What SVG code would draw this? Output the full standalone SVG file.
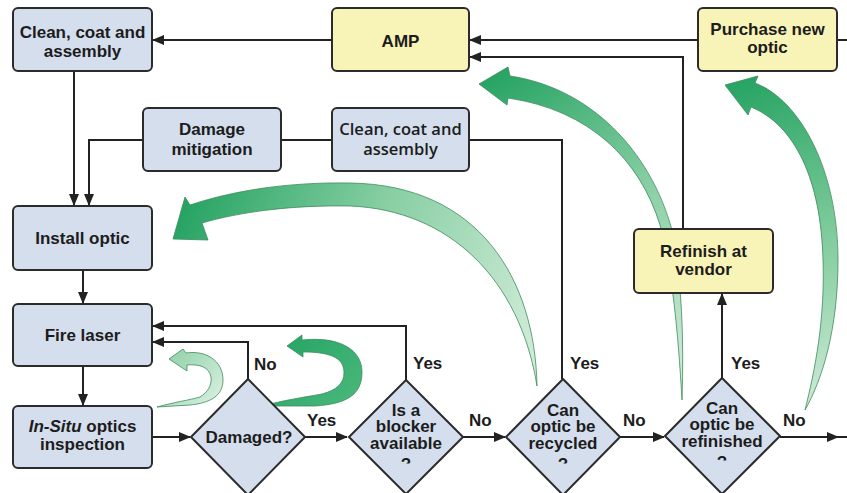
<svg xmlns="http://www.w3.org/2000/svg" width="847" height="493" viewBox="0 0 847 493">
  <defs>
    <style>
      .box { stroke: #2b2b2b; stroke-width: 2; }
      .blue { fill: #d4deec; }
      .yellow { fill: #f8f3b6; }
      .dia { fill: #d4deec; stroke: #2b2b2b; stroke-width: 2; stroke-linejoin: round; }
      .lbl { font-family: "Liberation Sans", Arial, sans-serif; font-weight: bold; font-size: 17px; fill: #1c1c1c; text-anchor: middle; }
      .lbl2 { font-family: "Open Sans", "Liberation Sans", sans-serif; font-weight: 600; font-size: 16.5px; fill: #1c1c1c; text-anchor: middle; }
      .yn { font-family: "Liberation Sans", Arial, sans-serif; font-weight: bold; font-size: 17px; fill: #1c1c1c; }
      .wire { fill: none; stroke: #222; stroke-width: 2; }
      .swoop { stroke: #3d8a5c; stroke-width: 0.8; stroke-linejoin: round; }
    </style>
    <marker id="ah" viewBox="0 0 12 10" refX="11" refY="5" markerWidth="12" markerHeight="10" orient="auto" markerUnits="userSpaceOnUse">
      <path d="M0,0 L12,5 L0,10 Z" fill="#222"/>
    </marker>
    <linearGradient id="g1" gradientUnits="userSpaceOnUse" x1="180" y1="220" x2="540" y2="380">
      <stop offset="0" stop-color="#27a463"/>
      <stop offset="0.45" stop-color="#86cea2"/>
      <stop offset="1" stop-color="#d6eedd"/>
    </linearGradient>
    <linearGradient id="g2" gradientUnits="userSpaceOnUse" x1="480" y1="84" x2="682" y2="400">
      <stop offset="0" stop-color="#27a463"/>
      <stop offset="0.5" stop-color="#8ed1a8"/>
      <stop offset="1" stop-color="#d6eedd"/>
    </linearGradient>
    <linearGradient id="g3" gradientUnits="userSpaceOnUse" x1="725" y1="85" x2="805" y2="410">
      <stop offset="0" stop-color="#27a463"/>
      <stop offset="0.5" stop-color="#7fcb9c"/>
      <stop offset="1" stop-color="#cdead6"/>
    </linearGradient>
    <linearGradient id="g4" gradientUnits="userSpaceOnUse" x1="170" y1="355" x2="225" y2="405">
      <stop offset="0" stop-color="#94d3ab"/>
      <stop offset="1" stop-color="#def2e5"/>
    </linearGradient>
    <linearGradient id="g5" gradientUnits="userSpaceOnUse" x1="290" y1="345" x2="350" y2="405">
      <stop offset="0" stop-color="#2aa767"/>
      <stop offset="1" stop-color="#48b77a"/>
    </linearGradient>
    <!-- text frames of the decision shapes -->
    <clipPath id="cDam"><rect x="190" y="380" width="120" height="67"/></clipPath>
    <clipPath id="cFour"><rect x="340" y="380" width="300" height="83.5"/></clipPath>
    <clipPath id="cRef"><rect x="660" y="378" width="125" height="82.5"/></clipPath>
  </defs>

  <rect width="847" height="493" fill="#ffffff"/>

  <!-- broad green flow arrows -->
  <g id="swoops">
    <path class="swoop" fill="url(#g1)" d="M537,386 C535,280 480,185 350,183 C290,182 235,190 190,205 L185,197 L173,239 L208,240 L202,223 C240,212 290,205 350,206 C450,210 520,280 537,386 Z"/>
    <path class="swoop" fill="url(#g2)" d="M479,84 L508,67 L510,76 C590,88 650,150 672,230 C682,280 684,340 682,400 C678,330 672,270 660,225 C640,160 590,110 508,98 L507,105 Z"/>
    <path class="swoop" fill="url(#g3)" d="M725,85 L758,76 L755,83 C800,100 838,170 838,260 C838,330 822,380 805,410 C815,370 825,320 823,260 C821,180 795,125 751,107 L748,115 Z"/>
    <path class="swoop" fill="url(#g4)" d="M169,359 L183,349 L186,353 C205,350 223,360 223,380 C223,396 210,403 190,405 L157,407 C175,402 190,400 200,397 C208,392 212,385 211,377 C209,367 200,364 187,365 L187,371 Z"/>
    <path class="swoop" fill="url(#g5)" d="M287,346 L302,335 L302,340 C340,336 362,350 362,372 C362,396 345,404 315,406 L262,406 C285,400 305,397 322,394 C337,390 344,383 344,373 C344,360 335,352 303,352 L303,357 Z"/>
  </g>

  <!-- connectors -->
  <g id="connectors">
    <path class="wire" d="M332,40 L153,40" marker-end="url(#ah)"/>
    <path class="wire" d="M698,40 L470,40" marker-end="url(#ah)"/>
    <path class="wire" d="M837,40 L847,40"/>
    <path class="wire" d="M683,229 L683,57 L470,57" marker-end="url(#ah)"/>
    <path class="wire" d="M74,71 L74,205" marker-end="url(#ah)"/>
    <path class="wire" d="M143,140 L89,140 L89,205" marker-end="url(#ah)"/>
    <path class="wire" d="M281,140 L332,140"/>
    <path class="wire" d="M469,140 L562,140 L562,379"/>
    <path class="wire" d="M83,270 L83,303" marker-end="url(#ah)"/>
    <path class="wire" d="M83,366 L83,405" marker-end="url(#ah)"/>
    <path class="wire" d="M152,437 L190,437" marker-end="url(#ah)"/>
    <path class="wire" d="M248,379 L248,342 L153,342" marker-end="url(#ah)"/>
    <path class="wire" d="M406,380 L406,326 L153,326" marker-end="url(#ah)"/>
    <path class="wire" d="M305,437 L347,437" marker-end="url(#ah)"/>
    <path class="wire" d="M463,437 L505,437" marker-end="url(#ah)"/>
    <path class="wire" d="M620,437 L664,437" marker-end="url(#ah)"/>
    <path class="wire" d="M780,437 L838,437" marker-end="url(#ah)"/>
    <path class="wire" d="M838,437 L847,437"/>
    <path class="wire" d="M722,378 L722,294" marker-end="url(#ah)"/>
    <text class="yn" x="254" y="370">No</text>
    <text class="yn" x="413" y="369">Yes</text>
    <text class="yn" x="570" y="369">Yes</text>
    <text class="yn" x="731" y="369">Yes</text>
    <text class="yn" x="307" y="426">Yes</text>
    <text class="yn" x="469" y="426">No</text>
    <text class="yn" x="623" y="426">No</text>
    <text class="yn" x="783" y="426">No</text>
  </g>

  <!-- process boxes -->
  <g id="clean-coat-top">
    <rect class="box blue" x="13" y="8" width="139" height="63" rx="5"/>
    <text class="lbl" x="82.5" y="38">Clean, coat and</text>
    <text class="lbl" x="82.5" y="57">assembly</text>
  </g>
  <g id="amp">
    <rect class="box yellow" x="332" y="8" width="137" height="63" rx="5"/>
    <text class="lbl" x="400.5" y="47">AMP</text>
  </g>
  <g id="purchase">
    <rect class="box yellow" x="698" y="8" width="139" height="63" rx="5"/>
    <text class="lbl" x="767.5" y="35">Purchase new</text>
    <text class="lbl" x="767.5" y="53">optic</text>
  </g>
  <g id="damage-mitigation">
    <rect class="box blue" x="143" y="108" width="138" height="63" rx="5"/>
    <text class="lbl" x="212" y="135">Damage</text>
    <text class="lbl" x="212" y="155">mitigation</text>
  </g>
  <g id="clean-coat-mid">
    <rect class="box blue" x="332" y="108" width="137" height="63" rx="5"/>
    <text class="lbl2" x="400.5" y="135">Clean, coat and</text>
    <text class="lbl2" x="400.5" y="155">assembly</text>
  </g>
  <g id="install">
    <rect class="box blue" x="13" y="206" width="139" height="64" rx="5"/>
    <text class="lbl" x="82.5" y="244">Install optic</text>
  </g>
  <g id="fire">
    <rect class="box blue" x="13" y="304" width="139" height="62" rx="5"/>
    <text class="lbl" x="82.5" y="341">Fire laser</text>
  </g>
  <g id="inspection">
    <rect class="box blue" x="13" y="406" width="139" height="62" rx="5"/>
    <text class="lbl" x="82.5" y="432"><tspan font-style="italic">In-Situ</tspan> optics</text>
    <text class="lbl" x="82.5" y="450">inspection</text>
  </g>
  <g id="refinish-vendor">
    <rect class="box yellow" x="634" y="229" width="139" height="64" rx="5"/>
    <text class="lbl" x="703.5" y="257">Refinish at</text>
    <text class="lbl" x="703.5" y="275">vendor</text>
  </g>

  <!-- decisions -->
  <g id="damaged">
    <polygon class="dia" points="248,379 305,437 248,495 191,437"/>
    <text class="lbl" x="249" y="443" clip-path="url(#cDam)">Damaged?</text>
  </g>
  <g id="blocker">
    <polygon class="dia" points="406,380 463,437 406,494 349,437"/>
    <g clip-path="url(#cFour)">
      <text class="lbl" x="406" y="416">Is a</text>
      <text class="lbl" x="406" y="432">blocker</text>
      <text class="lbl" x="406" y="449">available</text>
      <text class="lbl" x="406" y="470">?</text>
    </g>
  </g>
  <g id="recycled">
    <polygon class="dia" points="563,379 620,437 563,495 506,437"/>
    <g clip-path="url(#cFour)">
      <text class="lbl" x="563" y="416">Can</text>
      <text class="lbl" x="563" y="432">optic be</text>
      <text class="lbl" x="563" y="449">recycled</text>
      <text class="lbl" x="563" y="470">?</text>
    </g>
  </g>
  <g id="refinished">
    <polygon class="dia" points="722,378 780,436 722,494 665,436"/>
    <g clip-path="url(#cRef)">
      <text class="lbl" x="722" y="414">Can</text>
      <text class="lbl" x="722" y="430">optic be</text>
      <text class="lbl" x="722" y="447">refinished</text>
      <text class="lbl" x="722" y="468">?</text>
    </g>
  </g>
</svg>
